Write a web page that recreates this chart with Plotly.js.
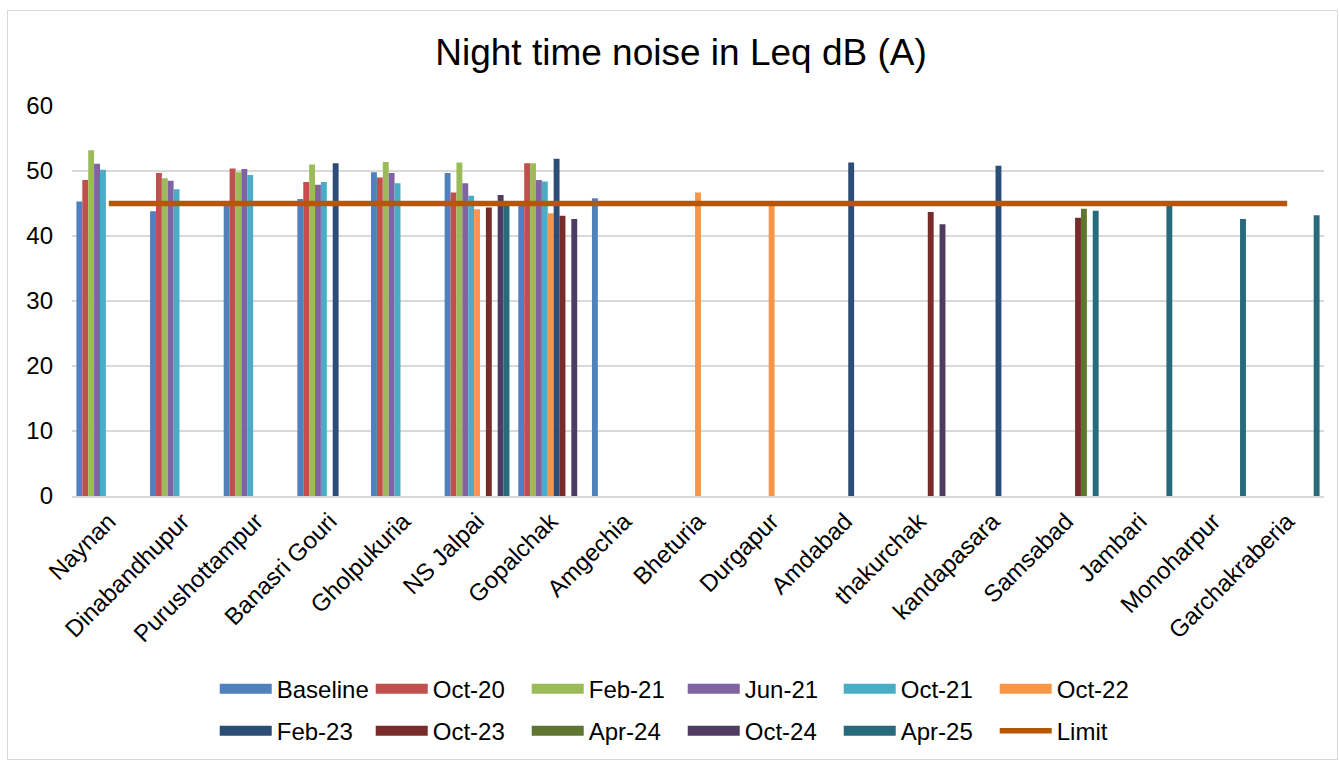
<!DOCTYPE html>
<html>
<head>
<meta charset="utf-8">
<script src="https://cdn.plot.ly/plotly-3.0.1.min.js"></script>
<style>
html,body{margin:0;padding:0;background:#fff;}
#wrap{position:relative;width:1339px;height:761px;}
#chart{position:absolute;left:0;top:0;width:1339px;height:761px;}
#frame{position:absolute;left:7px;top:10px;width:1329px;height:748px;border:1px solid #d9d9d9;pointer-events:none;}
</style>
</head>
<body>
<div id="wrap"><div id="chart"></div><div id="frame"></div></div>
<script>
const categories = ["Naynan","Dinabandhupur","Purushottampur","Banasri Gouri","Gholpukuria","NS Jalpai","Gopalchak","Amgechia","Bheturia","Durgapur","Amdabad","thakurchak","kandapasara","Samsabad","Jambari","Monoharpur","Garchakraberia"];

const baseline = [45.3, 43.8, 45.1, 45.7, 49.8, 49.7, 44.9, 45.8, null, null, null, null, null, null, null, null, null];
const oct20    = [48.6, 49.7, 50.4, 48.3, 49.0, 46.7, 51.2, null, null, null, null, null, null, null, null, null, null];
const feb21    = [53.2, 48.9, 49.8, 51.0, 51.4, 51.3, 51.2, null, null, null, null, null, null, null, null, null, null];
const jun21    = [51.1, 48.5, 50.3, 47.9, 49.7, 48.1, 48.6, null, null, null, null, null, null, null, null, null, null];
const oct21    = [50.2, 47.2, 49.4, 48.3, 48.1, 46.2, 48.4, null, null, null, null, null, null, null, null, null, null];
const oct22    = [null, null, null, null, null, 44.1, 43.5, null, 46.7, 45.0, null, null, null, null, null, null, null];
const feb23    = [null, null, null, 51.2, null, null, 51.9, null, null, null, 51.3, null, 50.8, null, null, null, null];
const oct23    = [null, null, null, null, null, 44.4, 43.1, null, null, null, null, 43.7, null, 42.8, null, null, null];
const apr24    = [null, null, null, null, null, null, null, null, null, null, null, null, null, 44.2, null, null, null];
const oct24    = [null, null, null, null, null, 46.3, 42.6, null, null, null, null, 41.8, null, null, null, null, null];
const apr25    = [null, null, null, null, null, 44.8, null, null, null, null, null, null, null, 43.9, 44.9, 42.6, 43.2];
const limit    = [45, 45, 45, 45, 45, 45, 45, 45, 45, 45, 45, 45, 45, 45, 45, 45, 45];

const seriesNames = ["Baseline","Oct-20","Feb-21","Jun-21","Oct-21","Oct-22","Feb-23","Oct-23","Apr-24","Oct-24","Apr-25"];
const seriesValues = [baseline, oct20, feb21, jun21, oct21, oct22, feb23, oct23, apr24, oct24, apr25];
const colors = ["#4F81BD","#C0504D","#9BBB59","#8064A2","#4BACC6","#F79646","#2C4D75","#772C2A","#5F7530","#4D3B62","#276A7C"];
const limitColor = "#B65708";

const traces = [];
seriesNames.forEach((name, i) => {
  traces.push({
    type: "bar", name: name, x: categories, y: seriesValues[i],
    marker: {color: colors[i], line: {width: 0}},
    legendgroup: name, showlegend: false, hoverinfo: "x+y+name"
  });
});
const limitTrace = {
  type: "scatter", mode: "lines", name: "Limit", x: categories, y: limit,
  line: {color: limitColor, width: 5.5}, legend: "legend2", legendgroup: "Limit"
};
// legend entries (wide swatches like the original)
const legendTraces = seriesNames.map((name, i) => ({
  type: "scatter", mode: "lines", name: name, x: [null], y: [null],
  line: {color: colors[i], width: 13}, legendgroup: name,
  legend: i < 6 ? "legend" : "legend2", hoverinfo: "skip"
}));
const ordered = traces.concat(legendTraces, [limitTrace]);

const legendCommon = {
  orientation: "h", xref: "paper", yref: "paper", xanchor: "left", yanchor: "middle",
  font: {family: "Liberation Sans, Arial, sans-serif", size: 24, color: "#000"},
  entrywidth: 89, entrywidthmode: "pixels", itemwidth: 52, tracegroupgap: 0,
  bgcolor: "rgba(0,0,0,0)", traceorder: "normal"
};

const layout = {
  width: 1339, height: 761,
  margin: {l: 72, r: 15, t: 106, b: 265, autoexpand: false},
  paper_bgcolor: "#fff", plot_bgcolor: "#fff",
  font: {family: "Liberation Sans, Arial, sans-serif", color: "#000"},
  title: {text: "Night time noise in Leq dB (A)", font: {size: 37, color: "#000"},
          x: 0.5086, xref: "container", xanchor: "center", y: 0.932, yref: "container", yanchor: "middle"},
  barmode: "group", bargap: 0.12, bargroupgap: 0,
  xaxis: {type: "category", tickangle: -45, tickfont: {size: 24, color: "#000"}, automargin: false,
          showline: true, linecolor: "#d9d9d9", linewidth: 1.5, ticks: "", showgrid: false, fixedrange: true},
  yaxis: {range: [0, 60], dtick: 10, tickfont: {size: 24, color: "#000"}, showgrid: true, automargin: false,
          gridcolor: "#d9d9d9", gridwidth: 1.5, zeroline: false, ticks: "", ticklabelstandoff: 18, fixedrange: true},
  legend: Object.assign({}, legendCommon, {x: 0.114, y: -0.495}),
  legend2: Object.assign({}, legendCommon, {x: 0.114, y: -0.603}),
  showlegend: true
};

Plotly.newPlot("chart", ordered, layout, {displayModeBar: false});
</script>
</body>
</html>
